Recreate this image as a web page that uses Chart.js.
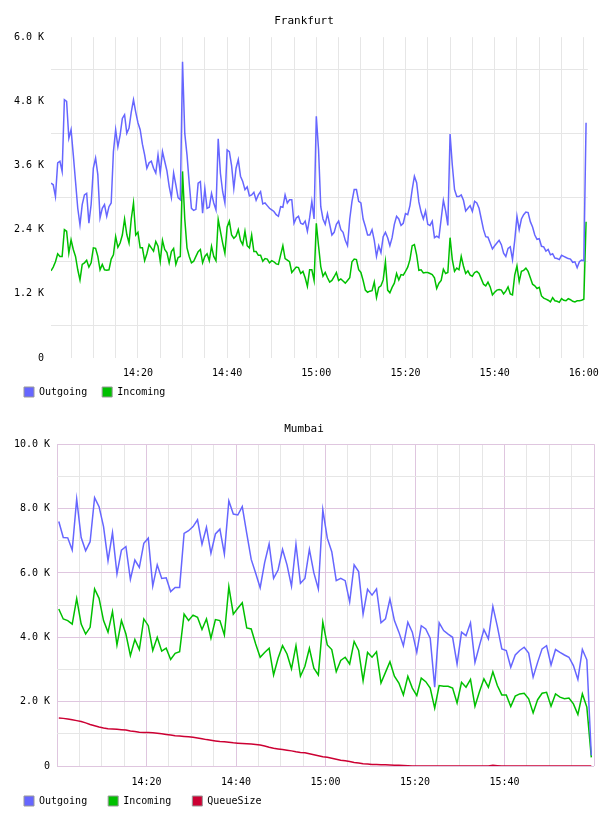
<!DOCTYPE html>
<html>
<head>
<meta charset="utf-8">
<script src="https://cdn.jsdelivr.net/npm/chart.js@4.4.1/dist/chart.umd.min.js"></script>
<style>
  html, body { margin: 0; padding: 0; background: #fff; }
  canvas { display: block; }
</style>
</head>
<body>
<canvas id="frankfurt" width="608" height="410"></canvas>
<canvas id="mumbai" width="608" height="406"></canvas>
<script>
// minutes after 14:00; Frankfurt is sampled every 30 s
const fraStart = 0.5
const fraStep = 0.5
const fraOutgoing = [
  3270,3240,3020,3650,3680,3490,4830,4800,4110,4270,
  3800,3300,2800,2490,2870,3050,3080,2520,2870,3550,
  3740,3430,2620,2800,2870,2650,2830,2900,3860,4270,
  3950,4170,4480,4550,4200,4300,4600,4830,4600,4400,
  4270,4000,3800,3550,3650,3680,3550,3460,3800,3460,
  3860,3680,3500,3210,3000,3460,3240,3000,2960,5540,
  4200,3800,3270,2800,2760,2780,3270,3300,2710,3170,
  2800,2820,3080,2900,2770,4100,3450,3110,2900,3890,
  3860,3600,3170,3550,3710,3400,3300,3150,3200,3030,
  3050,3100,2950,3050,3110,2880,2900,2850,2800,2770,
  2740,2680,2650,2830,2820,3050,2900,2960,2960,2520,
  2620,2650,2520,2500,2560,2370,2620,2930,2600,4520,
  3900,2830,2600,2500,2700,2500,2300,2350,2500,2560,
  2400,2350,2200,2100,2600,2930,3150,3150,2930,2900,
  2600,2460,2300,2300,2400,2200,1900,2100,1970,2270,
  2350,2250,2100,2250,2500,2650,2600,2480,2520,2700,
  2680,2850,3150,3400,3280,2920,2730,2600,2750,2500,
  2480,2560,2250,2280,2250,2600,2950,2750,2480,4190,
  3610,3150,3020,3020,3050,2950,2750,2800,2850,2740,
  2930,2900,2800,2600,2400,2270,2260,2150,2040,2100,
  2150,2200,2120,1960,1900,2050,2080,1840,2200,2650,
  2400,2600,2680,2730,2720,2550,2450,2300,2220,2230,
  2090,2080,2000,2030,1930,1950,1870,1860,1840,1920,
  1900,1880,1860,1850,1790,1800,1690,1800,1830,1820,
  4400
]
const fraIncoming = [
  1630,1700,1800,1950,1900,1900,2400,2370,1960,2210,
  2030,1900,1650,1460,1750,1780,1830,1700,1780,2060,
  2050,1900,1650,1750,1650,1640,1650,1850,1930,2270,
  2070,2150,2300,2600,2310,2150,2600,2900,2300,2350,
  2060,2060,1820,1950,2120,2060,2000,2180,2090,1810,
  2200,2030,1970,1780,1990,2050,1750,1880,1900,3490,
  2600,2060,1900,1780,1810,1900,1990,2030,1780,1900,
  1950,1820,2090,1900,1820,2590,2370,2150,1960,2450,
  2560,2300,2240,2280,2400,2200,2120,2370,2100,2060,
  2300,1990,1990,1920,1920,1810,1860,1850,1780,1820,
  1800,1760,1750,1930,2100,1860,1830,1800,1600,1650,
  1700,1690,1580,1620,1500,1340,1650,1650,1450,2520,
  2100,1710,1530,1600,1500,1420,1450,1520,1600,1450,
  1480,1440,1400,1450,1500,1800,1850,1840,1650,1600,
  1450,1270,1230,1250,1260,1420,1130,1320,1350,1460,
  1800,1270,1220,1320,1400,1580,1460,1560,1550,1620,
  1700,1840,2100,2120,1930,1640,1650,1590,1600,1600,
  1580,1560,1500,1300,1400,1450,1660,1580,1600,2250,
  1840,1620,1680,1650,1900,1720,1580,1630,1550,1530,
  1600,1620,1580,1480,1380,1350,1420,1330,1180,1230,
  1270,1280,1270,1200,1250,1330,1200,1180,1550,1720,
  1430,1620,1640,1680,1620,1500,1380,1350,1300,1320,
  1160,1120,1100,1080,1050,1130,1070,1060,1040,1110,
  1080,1070,1110,1090,1060,1050,1070,1070,1080,1100,
  2550
]

// Mumbai is sampled once a minute
const mumStart = 0.4
const mumStep = 1
const mumOutgoing = [
  7600,7100,7090,6710,8290,7100,6690,6970,8340,8060,
  7440,6380,7250,5970,6710,6820,5800,6400,6170,6920,
  7080,5590,6250,5830,5850,5420,5550,5550,7230,7310,
  7440,7650,6890,7420,6610,7210,7360,6590,8240,7830,
  7800,8060,7230,6420,5990,5540,6320,6900,5830,6090,
  6730,6250,5590,6890,5680,5830,6730,6000,5500,7960,
  7080,6660,5760,5830,5760,5100,6250,6040,4720,5490,
  5310,5500,4450,4570,5190,4520,4160,3740,4470,4160,
  3530,4360,4260,3970,2450,4450,4210,4100,4000,3170,
  4160,4050,4450,3220,3740,4240,3950,4960,4340,3640,
  3590,3070,3450,3590,3690,3510,2760,3220,3640,3740,
  3140,3620,3530,3450,3380,3120,2690,3620,3300,330
]
const mumIncoming = [
  4880,4570,4520,4410,5200,4410,4100,4310,5500,5210,
  4520,4160,4800,3760,4520,4100,3430,3930,3620,4570,
  4360,3590,4000,3570,3660,3310,3500,3550,4720,4520,
  4690,4620,4240,4570,3970,4550,4520,4070,5570,4720,
  4900,5070,4290,4260,3790,3380,3530,3660,2830,3350,
  3740,3480,3020,3740,2790,3100,3660,3040,2830,4470,
  3760,3620,2930,3280,3380,3170,3870,3590,2650,3530,
  3380,3550,2580,2910,3240,2790,2580,2210,2790,2420,
  2190,2730,2620,2420,1800,2500,2480,2480,2420,1960,
  2600,2450,2690,1860,2310,2710,2450,2930,2500,2210,
  2210,1850,2170,2240,2260,2090,1650,2060,2260,2290,
  1860,2240,2140,2090,2110,1930,1600,2240,1830,270
]
const mumQueue = [
  1490,1480,1460,1440,1410,1380,1340,1290,1250,1210,
  1180,1160,1150,1140,1130,1120,1090,1070,1050,1040,
  1040,1030,1020,1000,980,960,940,930,920,910,
  890,870,850,820,800,780,760,750,740,720,
  710,700,690,680,670,650,620,580,550,530,
  510,490,470,440,420,410,380,350,320,290,
  270,240,210,180,160,140,110,90,70,60,
  50,45,40,35,30,25,20,15,8,3,
  0,0,0,0,0,0,0,0,0,0,
  0,0,0,0,0,0,0,20,10,0,
  0,0,0,0,0,0,0,0,0,0,
  0,0,0,0,0,0,0,0,0,0
]

const fraGridMinutes = [5,10,15,20,25,30,35,40,45,50,55,60,65,70,75,80,85,90,95,100,105,110,115,120]
const mumGridMinutes = [0,5,10,15,20,25,30,35,40,45,50,55,60,65,70,75,80,85,90,95,100,105,110,115,120]
const fraTimeLabels = {20: '14:20', 40: '14:40', 60: '15:00', 80: '15:20', 100: '15:40', 120: '16:00'}
const mumTimeLabels = {20: '14:20', 40: '14:40', 60: '15:00', 80: '15:20', 100: '15:40'}
const fraValueTicks = [0,600,1200,1800,2400,3000,3600,4200,4800,5400,6000]
const mumValueTicks = [0,1000,2000,3000,4000,5000,6000,7000,8000,9000,10000]

const OUT = '#6666ff'
const IN = '#00c000'
const QUEUE = '#cc0033'
const GRAY = '#e6e6e6'
const PINK = '#dfc6df'

Chart.defaults.font.family = "'DejaVu Sans Mono', monospace"
Chart.defaults.font.size = 10
Chart.defaults.color = '#000'

// puts the legend row where it belongs without eating plot space
const legendPlace = {
  id: 'legendPlace',
  afterLayout(chart, args, opts) {
    const lg = chart.legend
    if (!lg) return
    const pad = lg.options.labels.padding
    lg.left += opts.x || 0
    lg.top = opts.rowTop - pad
    lg.height = 20 + pad
    lg.bottom = lg.top + lg.height
  }
}

function points(values, start, step) {
  return values.map((v, i) => ({x: start + i * step, y: v}))
}

function kLabel(v) {
  return v === 0 ? '0' : (v / 1000).toFixed(1) + ' K'
}

function makeChart(id, c) {
  return new Chart(document.getElementById(id), {
    type: 'line',
    data: {
      datasets: c.series.map(s => ({
        label: s.label,
        data: points(s.values, c.start, c.step),
        borderColor: s.color,
        backgroundColor: s.color,
        borderWidth: 1.5,
        pointRadius: 0,
        tension: 0,
        fill: false,
        xAxisID: 'x',
        yAxisID: 'y'
      }))
    },
    options: {
      responsive: false,
      animation: false,
      events: [],
      layout: {padding: {left: 0, right: 0, top: 0, bottom: 0}},
      plugins: {
        title: {
          display: true,
          text: c.title,
          color: '#000',
          font: {size: 11, weight: 'normal'},
          padding: {top: c.titleTop, bottom: c.titleBottom}
        },
        legend: {
          position: 'bottom',
          align: 'start',
          maxHeight: c.legendRoom,
          labels: {
            boxWidth: 10,
            boxHeight: 10,
            padding: c.legendGap,
            color: '#000',
            font: {size: 10},
            generateLabels: chart => chart.data.datasets.map((ds, i) => ({
              text: ds.label,
              fillStyle: ds.borderColor,
              strokeStyle: '#999',
              lineWidth: 1,
              hidden: false,
              datasetIndex: i,
              fontColor: '#000'
            }))
          }
        },
        tooltip: {enabled: false},
        legendPlace: {x: c.legendX, rowTop: c.legendRowTop}
      },
      scales: {
        x: {
          type: 'linear',
          min: c.xMin,
          max: c.xMax,
          border: {display: false},
          grid: {drawTicks: false, lineWidth: 1, color: ctx => c.xGrid(ctx.tick ? ctx.tick.value : 1)},
          ticks: {
            padding: c.xPad,
            autoSkip: false,
            maxRotation: 0,
            minRotation: 0,
            color: '#000',
            callback: v => c.timeLabels[v] || ''
          },
          afterBuildTicks: s => { s.ticks = c.xTicks.map(v => ({value: v})) },
          afterFit: s => { s.height = c.xHeight }
        },
        y: {
          type: 'linear',
          position: 'left',
          min: 0,
          max: c.yMax,
          border: {display: false},
          grid: {drawTicks: false, lineWidth: 1, color: ctx => c.yGrid(ctx.tick ? ctx.tick.value : 1)},
          ticks: {
            padding: 7,
            autoSkip: false,
            color: '#000',
            callback: v => (v % c.yLabelStep === 0 ? kLabel(v) : '')
          },
          afterBuildTicks: s => { s.ticks = c.yTicks.map(v => ({value: v})) },
          afterFit: s => { s.width = c.yWidth }
        },
        yR: {
          position: 'right',
          display: true,
          grid: {display: false},
          border: {display: false},
          ticks: {display: false},
          afterFit: s => { s.width = 14 }
        }
      }
    },
    plugins: [legendPlace]
  })
}

makeChart('frankfurt', {
  title: 'Frankfurt',
  start: fraStart,
  step: fraStep,
  series: [
    {label: 'Outgoing', values: fraOutgoing, color: OUT},
    {label: 'Incoming', values: fraIncoming, color: IN}
  ],
  xMin: 0.5,
  xMax: 120.9,
  xTicks: fraGridMinutes,
  timeLabels: fraTimeLabels,
  xGrid: () => GRAY,
  yMax: 6000,
  yTicks: fraValueTicks,
  yLabelStep: 1200,
  yGrid: v => (v % 1200 === 0 ? 'rgba(0,0,0,0)' : GRAY),
  yWidth: 51,
  xPad: 9,
  xHeight: 21,
  titleTop: 15,
  titleBottom: 9,
  legendGap: 15,
  legendRoom: 31,
  legendRowTop: 387,
  legendX: 9
})

makeChart('mumbai', {
  title: 'Mumbai',
  start: mumStart,
  step: mumStep,
  series: [
    {label: 'Outgoing', values: mumOutgoing, color: OUT},
    {label: 'Incoming', values: mumIncoming, color: IN},
    {label: 'QueueSize', values: mumQueue, color: QUEUE}
  ],
  xMin: 0,
  xMax: 120,
  xTicks: mumGridMinutes,
  timeLabels: mumTimeLabels,
  xGrid: v => (v % 20 === 0 ? PINK : GRAY),
  yMax: 10000,
  yTicks: mumValueTicks,
  yLabelStep: 2000,
  yGrid: v => (v % 2000 === 0 ? PINK : GRAY),
  yWidth: 57,
  xPad: 10,
  xHeight: 22,
  titleTop: 13,
  titleBottom: 8,
  legendGap: 21,
  legendRoom: 28,
  legendRowTop: 386,
  legendX: 3
})
</script>
</body>
</html>
